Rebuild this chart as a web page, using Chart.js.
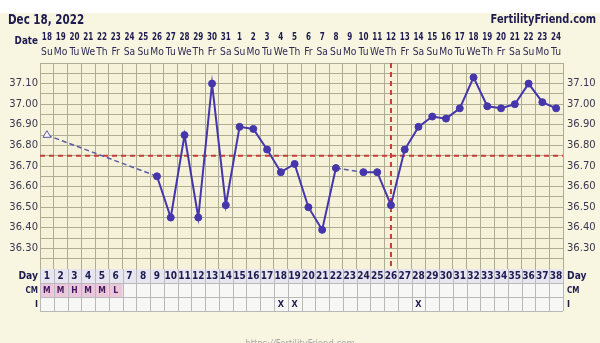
<!DOCTYPE html>
<html>
<head>
<meta charset="utf-8">
<title>BBT chart</title>
<script src="https://cdn.jsdelivr.net/npm/chart.js@4.4.0/dist/chart.umd.min.js"></script>
<style>
  html, body { margin: 0; padding: 0; background: #f8f5e0; }
  canvas { display: block; }
</style>
</head>
<body>
<canvas id="bbtChart" width="600" height="343"></canvas>
<script>
const chartDate = 'Dec 18, 2022';
const siteName = 'FertilityFriend.com';
const siteUrl = 'https://FertilityFriend.com';
const dateLabels = ['18','19','20','21','22','23','24','25','26','27','28','29','30','31',
  '1','2','3','4','5','6','7','8','9','10','11','12','13','14','15','16','17','18','19','20','21','22','23','24'];
const weekdays = ['Su','Mo','Tu','We','Th','Fr','Sa'];
// temperatures per cycle day 1..38 (null = not recorded)
const temps = [
  36.85, null, null, null, null, null, null, null, 36.65, 36.45,   // 1-10
  36.85, 36.45, 37.10, 36.51, 36.89, 36.88, 36.78, 36.67, 36.71, 36.50, // 11-20
  36.39, 36.69, null, 36.67, 36.67, 36.51, 36.78, 36.89, 36.94, 36.93, // 21-30
  36.98, 37.13, 36.99, 36.98, 37.00, 37.10, 37.01, 36.98  // 31-38
];
const openDays = [1];
const cmCodes = ['M', 'M', 'H', 'M', 'M', 'L'];
const intercourseDays = [18, 19, 28];
const coverline = 36.75;
const ovulationDay = 26;

const navy = '#1d1b4f';
const lineColor = '#4536ab';
const gapColor = '#5c5aa6';
const gridColor = '#adad94';
const redLine = '#c43e36';

function text(ctx, str, x, y, font, color, align, squeeze, baseline) {
  ctx.save();
  ctx.font = font;
  ctx.fillStyle = color;
  ctx.textAlign = align;
  ctx.textBaseline = baseline || 'middle';
  ctx.translate(x, y);
  ctx.scale(squeeze, 1);
  ctx.fillText(str, 0, 0);
  ctx.restore();
}

// a segment spanning unrecorded days is drawn dashed
const isGap = c => c.p0.skip || c.p1.skip;
const isOpen = c => openDays.includes(c.dataIndex + 1);

const tickLabel = v => {
  const r = Math.round(v * 100);
  return (r % 10 === 0 && r > 3620 && r < 3720) ? (r / 100).toFixed(2) : '';
};

const backdrop = {
  id: 'backdrop',
  beforeDraw(chart) {
    const { ctx, chartArea: a } = chart;
    ctx.save();
    ctx.fillStyle = '#f8f5e0';
    ctx.fillRect(0, 0, chart.width, chart.height);
    ctx.fillStyle = '#ffffff';
    ctx.fillRect(0, 0, chart.width, 13);
    ctx.fillStyle = '#f6f2d9';
    ctx.fillRect(a.left, a.top, a.right - a.left, a.bottom - a.top);
    ctx.restore();
  },
  beforeDatasetsDraw(chart) {
    const { ctx, chartArea: a, scales } = chart;
    const y = scales.y.getPixelForValue(coverline);
    const x = scales.x.getPixelForValue(ovulationDay);
    ctx.save();
    ctx.strokeStyle = redLine;
    ctx.lineWidth = 2;
    ctx.setLineDash([5, 4]);
    ctx.beginPath();
    ctx.moveTo(a.left, y);
    ctx.lineTo(a.right, y);
    ctx.moveTo(x, a.top);
    ctx.lineTo(x, a.bottom);
    ctx.stroke();
    ctx.restore();
  }
};

const frame = {
  id: 'frame',
  afterDraw(chart) {
    const { ctx, chartArea: a, scales } = chart;
    const xs = scales.x;
    const colX = d => xs.getPixelForValue(d);

    // header
    text(ctx, chartDate, 8, 20, 'bold 14px "DejaVu Sans"', navy, 'left', 0.74);
    text(ctx, siteName, 596, 20, 'bold 12px "DejaVu Sans"', navy, 'right', 0.82);
    text(ctx, 'Date', 38, 41, 'bold 11px "DejaVu Sans"', navy, 'right', 0.8);
    dateLabels.forEach((d, i) => {
      text(ctx, d, colX(i + 1), 37, 'bold 10px "DejaVu Sans"', navy, 'center', 0.72);
      text(ctx, weekdays[i % 7], colX(i + 1), 52, '10px "DejaVu Sans"', '#2d2b55', 'center', 0.92);
    });

    // table under the plot
    const rowH = 14;
    const top = a.bottom;
    const left = a.left, right = a.right;
    ctx.save();
    ctx.fillStyle = '#e7e5ef';
    ctx.fillRect(left, top, right - left, rowH);
    ctx.fillStyle = '#f7f7f6';
    ctx.fillRect(left, top + rowH, right - left, rowH * 2);
    ctx.fillStyle = '#ecc7dc';
    cmCodes.forEach((c, i) => {
      if (c) ctx.fillRect(colX(i + 0.5), top + rowH, colX(i + 1.5) - colX(i + 0.5), rowH);
    });
    ctx.strokeStyle = '#b9b9bc';
    ctx.lineWidth = 1;
    ctx.beginPath();
    for (let r = 1; r <= 3; r++) {
      ctx.moveTo(left, Math.round(top + r * rowH) + 0.5);
      ctx.lineTo(right, Math.round(top + r * rowH) + 0.5);
    }
    for (let d = 0; d <= dateLabels.length; d++) {
      const x = Math.round(colX(d + 0.5)) + 0.5;
      ctx.moveTo(x, top);
      ctx.lineTo(x, top + rowH * 3);
    }
    ctx.stroke();
    ctx.restore();

    const midDay = top + rowH / 2, midCm = top + rowH * 1.5, midI = top + rowH * 2.5;
    dateLabels.forEach((d, i) => {
      text(ctx, String(i + 1), colX(i + 1), midDay + 0.5, 'bold 10px "DejaVu Sans"', navy, 'center', 0.9);
    });
    cmCodes.forEach((c, i) => {
      text(ctx, c, colX(i + 1), midCm + 0.5, 'bold 9px "DejaVu Sans"', '#40185f', 'center', 0.85);
    });
    intercourseDays.forEach(d => {
      text(ctx, 'X', colX(d), midI + 0.5, 'bold 9px "DejaVu Sans"', navy, 'center', 0.9);
    });
    text(ctx, 'Day', 38, midDay + 0.5, 'bold 10px "DejaVu Sans"', navy, 'right', 0.92);
    text(ctx, 'CM', 38, midCm + 0.5, 'bold 9px "DejaVu Sans"', navy, 'right', 0.8);
    text(ctx, 'I', 38, midI + 0.5, 'bold 9px "DejaVu Sans"', navy, 'right', 0.9);
    text(ctx, 'Day', 567, midDay + 0.5, 'bold 10px "DejaVu Sans"', navy, 'left', 0.92);
    text(ctx, 'CM', 567, midCm + 0.5, 'bold 9px "DejaVu Sans"', navy, 'left', 0.8);
    text(ctx, 'I', 567, midI + 0.5, 'bold 9px "DejaVu Sans"', navy, 'left', 0.9);

    text(ctx, siteUrl, 300, 339, '10px "DejaVu Sans"', '#a9a9a9', 'center', 0.85, 'top');
  }
};

const yTicks = {
  stepSize: 0.05,
  autoSkip: false,
  callback: tickLabel,
  color: '#38374f',
  font: { family: 'DejaVu Sans', size: 10 }
};

new Chart(document.getElementById('bbtChart'), {
  type: 'line',
  data: {
    datasets: [{
      data: temps.map((t, i) => ({ x: i + 1, y: t })),
      borderColor: lineColor,
      borderWidth: 2,
      tension: 0,
      spanGaps: true,
      pointStyle: c => isOpen(c) ? 'triangle' : 'circle',
      pointRadius: c => isOpen(c) ? 4.5 : 3.5,
      pointBackgroundColor: c => isOpen(c) ? '#f8f6ee' : lineColor,
      pointBorderColor: c => isOpen(c) ? gapColor : lineColor,
      pointBorderWidth: 1,
      segment: {
        borderDash: c => isGap(c) ? [5, 3] : undefined,
        borderColor: c => isGap(c) ? gapColor : undefined,
        borderWidth: c => isGap(c) ? 1.5 : undefined
      }
    }]
  },
  options: {
    responsive: false,
    animation: false,
    events: [],
    layout: { padding: { top: 63, left: 0, right: 0, bottom: 0 } },
    plugins: { legend: { display: false }, tooltip: { enabled: false } },
    scales: {
      x: {
        type: 'linear',
        min: 0.5,
        max: 38.5,
        position: 'bottom',
        ticks: { display: false, stepSize: 1, autoSkip: false },
        grid: { color: gridColor, drawTicks: false },
        border: { display: false },
        afterFit: s => { s.height = 74; }
      },
      y: {
        min: 36.2,
        max: 37.2,
        position: 'left',
        ticks: { ...yTicks, padding: 2 },
        grid: { color: gridColor, drawTicks: false },
        border: { display: false },
        afterFit: s => { s.width = 40; }
      },
      y2: {
        min: 36.2,
        max: 37.2,
        position: 'right',
        ticks: { ...yTicks, padding: 4 },
        grid: { display: false, drawTicks: false },
        border: { display: false },
        afterFit: s => { s.width = 37; }
      }
    }
  },
  plugins: [backdrop, frame]
});
</script>
</body>
</html>
